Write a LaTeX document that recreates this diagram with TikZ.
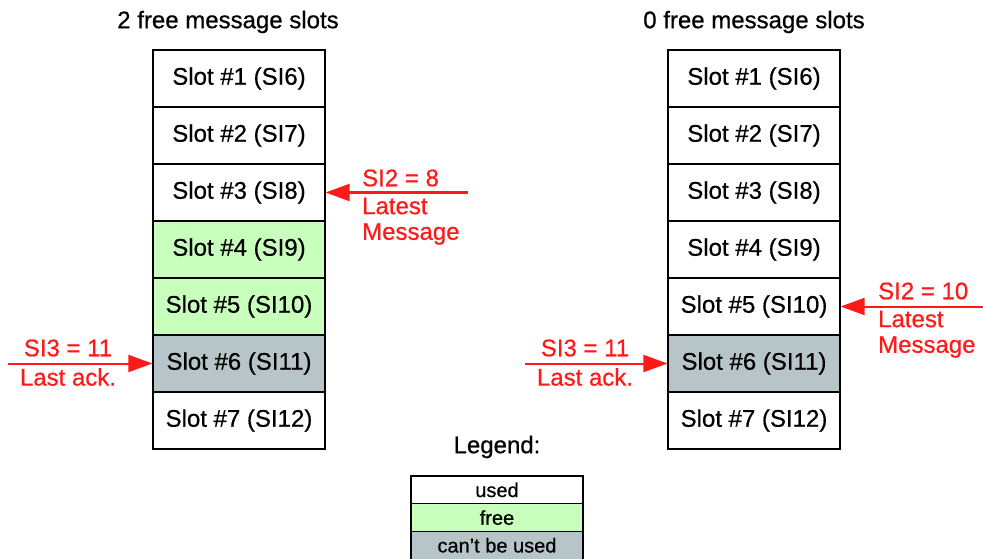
\documentclass[tikz,border=0pt]{standalone}
\usepackage{fontspec}
\setmainfont[FakeBold=0.6]{Liberation Sans}
\usetikzlibrary{arrows.meta}
\definecolor{freegreen}{HTML}{C8FFBC}
\definecolor{blockgray}{HTML}{B7C5C8}
\definecolor{arrred}{HTML}{FF1A1A}
\begin{document}
\begin{tikzpicture}[x=1pt,y=-1pt,
  slot/.style={draw=black,line width=1.2pt,minimum width=172pt,minimum height=57pt,inner sep=0pt,font=\fontsize{24}{28}\selectfont},
  legrow/.style={draw=black,line width=1.2pt,minimum width=172pt,minimum height=27.7pt,inner sep=0pt,font=\fontsize{20}{23}\selectfont},
  title/.style={font=\fontsize{24}{28}\selectfont,inner sep=0pt},
  redlbl/.style={text=arrred,font=\fontsize{24}{28}\selectfont,inner sep=0pt},
  redarrow/.style={draw=arrred,line width=2pt,-{Triangle[length=24pt,width=17pt]}}
]
\useasboundingbox (0,0) rectangle (983,559);
% titles
\node[title] (t1) at (228,22) {2 free message slots};
\node[title] (t2) at (754,22) {0 free message slots};
% left column
\node[slot] (L1) at (239,78.5) {Slot \#1 (SI6)};
\node[slot] (L2) at (239,135.5) {Slot \#2 (SI7)};
\node[slot] (L3) at (239,192.5) {Slot \#3 (SI8)};
\node[slot,fill=freegreen] (L4) at (239,249.5) {Slot \#4 (SI9)};
\node[slot,fill=freegreen] (L5) at (239,306.5) {Slot \#5 (SI10)};
\node[slot,fill=blockgray] (L6) at (239,363.5) {Slot \#6 (SI11)};
\node[slot] (L7) at (239,420.5) {Slot \#7 (SI12)};
% right column
\node[slot] (R1) at (754,78.5) {Slot \#1 (SI6)};
\node[slot] (R2) at (754,135.5) {Slot \#2 (SI7)};
\node[slot] (R3) at (754,192.5) {Slot \#3 (SI8)};
\node[slot] (R4) at (754,249.5) {Slot \#4 (SI9)};
\node[slot] (R5) at (754,306.5) {Slot \#5 (SI10)};
\node[slot,fill=blockgray] (R6) at (754,363.5) {Slot \#6 (SI11)};
\node[slot] (R7) at (754,420.5) {Slot \#7 (SI12)};
% legend
\node[title] (lg) at (497,447) {Legend:};
\node[legrow] (G1) at (497,489.9) {used};
\node[legrow,fill=freegreen] (G2) at (497,517.6) {free};
\node[legrow,fill=blockgray] (G3) at (497,545.3) {can’t be used};
% left arrows
\coordinate (a1) at (8,363.5);
\draw[redarrow] (a1) -- (L6.west);
\node[redlbl] (a1t) at (68,348) {SI3 = 11};
\node[redlbl] (a1b) at (68,377) {Last ack.};
\coordinate (a2) at (468,192.5);
\draw[redarrow] (a2) -- (L3.east);
\node[redlbl,anchor=west] (a2t) at (362,178) {SI2 = 8};
\node[redlbl,anchor=west] (a2m) at (362,206) {Latest};
\node[redlbl,anchor=west] (a2b) at (362,234) {Message};
% right arrows
\coordinate (a3) at (525,363.5);
\draw[redarrow] (a3) -- (R6.west);
\node[redlbl] (a3t) at (585,348) {SI3 = 11};
\node[redlbl] (a3b) at (585,377) {Last ack.};
\coordinate (a4) at (983,306.5);
\draw[redarrow] (a4) -- (R5.east);
\node[redlbl,anchor=west] (a4t) at (878,291) {SI2 = 10};
\node[redlbl,anchor=west] (a4m) at (878,319) {Latest};
\node[redlbl,anchor=west] (a4b) at (878,347) {Message};
\end{tikzpicture}
\end{document}
